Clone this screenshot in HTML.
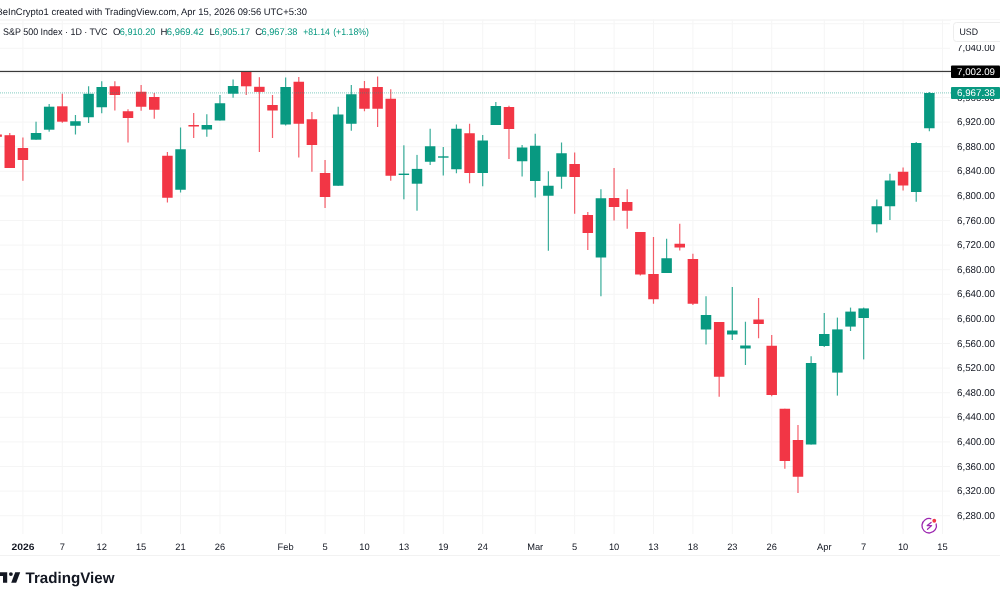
<!DOCTYPE html>
<html><head><meta charset="utf-8"><title>S&amp;P 500 Index chart</title>
<style>html,body{margin:0;padding:0;background:#fff;width:1000px;height:600px;overflow:hidden}svg{display:block;will-change:transform}text{font-family:"Liberation Sans",sans-serif;text-rendering:geometricPrecision}</style>
</head><body>
<svg width="1000" height="600" viewBox="0 0 1000 600" shape-rendering="crispEdges">
<rect x="0" y="0" width="1000" height="600" fill="#ffffff"/>
<rect x="0" y="19.2" width="1000" height="1.8" fill="#f7f7f7" shape-rendering="auto"/>
<rect x="0" y="555" width="1000" height="1" fill="#f2f2f2"/>
<rect x="22.40" y="19.5" width="1" height="514.5" fill="#f5f5f5" shape-rendering="auto"/>
<rect x="61.81" y="19.5" width="1" height="514.5" fill="#f5f5f5" shape-rendering="auto"/>
<rect x="101.22" y="19.5" width="1" height="514.5" fill="#f5f5f5" shape-rendering="auto"/>
<rect x="140.63" y="19.5" width="1" height="514.5" fill="#f5f5f5" shape-rendering="auto"/>
<rect x="180.04" y="19.5" width="1" height="514.5" fill="#f5f5f5" shape-rendering="auto"/>
<rect x="219.46" y="19.5" width="1" height="514.5" fill="#f5f5f5" shape-rendering="auto"/>
<rect x="285.14" y="19.5" width="1" height="514.5" fill="#f5f5f5" shape-rendering="auto"/>
<rect x="324.55" y="19.5" width="1" height="514.5" fill="#f5f5f5" shape-rendering="auto"/>
<rect x="363.96" y="19.5" width="1" height="514.5" fill="#f5f5f5" shape-rendering="auto"/>
<rect x="403.37" y="19.5" width="1" height="514.5" fill="#f5f5f5" shape-rendering="auto"/>
<rect x="442.78" y="19.5" width="1" height="514.5" fill="#f5f5f5" shape-rendering="auto"/>
<rect x="482.19" y="19.5" width="1" height="514.5" fill="#f5f5f5" shape-rendering="auto"/>
<rect x="534.74" y="19.5" width="1" height="514.5" fill="#f5f5f5" shape-rendering="auto"/>
<rect x="574.15" y="19.5" width="1" height="514.5" fill="#f5f5f5" shape-rendering="auto"/>
<rect x="613.56" y="19.5" width="1" height="514.5" fill="#f5f5f5" shape-rendering="auto"/>
<rect x="652.98" y="19.5" width="1" height="514.5" fill="#f5f5f5" shape-rendering="auto"/>
<rect x="692.39" y="19.5" width="1" height="514.5" fill="#f5f5f5" shape-rendering="auto"/>
<rect x="731.80" y="19.5" width="1" height="514.5" fill="#f5f5f5" shape-rendering="auto"/>
<rect x="771.21" y="19.5" width="1" height="514.5" fill="#f5f5f5" shape-rendering="auto"/>
<rect x="823.76" y="19.5" width="1" height="514.5" fill="#f5f5f5" shape-rendering="auto"/>
<rect x="863.17" y="19.5" width="1" height="514.5" fill="#f5f5f5" shape-rendering="auto"/>
<rect x="902.58" y="19.5" width="1" height="514.5" fill="#f5f5f5" shape-rendering="auto"/>
<rect x="941.99" y="19.5" width="1" height="514.5" fill="#f5f5f5" shape-rendering="auto"/>
<rect x="0" y="23.20" width="950" height="1" fill="#f5f5f5" shape-rendering="auto"/>
<rect x="0" y="47.80" width="950" height="1" fill="#f5f5f5" shape-rendering="auto"/>
<rect x="0" y="72.40" width="950" height="1" fill="#f5f5f5" shape-rendering="auto"/>
<rect x="0" y="97.00" width="950" height="1" fill="#f5f5f5" shape-rendering="auto"/>
<rect x="0" y="121.60" width="950" height="1" fill="#f5f5f5" shape-rendering="auto"/>
<rect x="0" y="146.20" width="950" height="1" fill="#f5f5f5" shape-rendering="auto"/>
<rect x="0" y="170.80" width="950" height="1" fill="#f5f5f5" shape-rendering="auto"/>
<rect x="0" y="195.40" width="950" height="1" fill="#f5f5f5" shape-rendering="auto"/>
<rect x="0" y="220.00" width="950" height="1" fill="#f5f5f5" shape-rendering="auto"/>
<rect x="0" y="244.60" width="950" height="1" fill="#f5f5f5" shape-rendering="auto"/>
<rect x="0" y="269.20" width="950" height="1" fill="#f5f5f5" shape-rendering="auto"/>
<rect x="0" y="293.80" width="950" height="1" fill="#f5f5f5" shape-rendering="auto"/>
<rect x="0" y="318.40" width="950" height="1" fill="#f5f5f5" shape-rendering="auto"/>
<rect x="0" y="343.00" width="950" height="1" fill="#f5f5f5" shape-rendering="auto"/>
<rect x="0" y="367.60" width="950" height="1" fill="#f5f5f5" shape-rendering="auto"/>
<rect x="0" y="392.20" width="950" height="1" fill="#f5f5f5" shape-rendering="auto"/>
<rect x="0" y="416.80" width="950" height="1" fill="#f5f5f5" shape-rendering="auto"/>
<rect x="0" y="441.40" width="950" height="1" fill="#f5f5f5" shape-rendering="auto"/>
<rect x="0" y="466.00" width="950" height="1" fill="#f5f5f5" shape-rendering="auto"/>
<rect x="0" y="490.60" width="950" height="1" fill="#f5f5f5" shape-rendering="auto"/>
<rect x="0" y="515.20" width="950" height="1" fill="#f5f5f5" shape-rendering="auto"/>
<rect x="-3.97" y="134.50" width="1.2" height="2.30" fill="#F23645" opacity="0.8" shape-rendering="auto"/>
<rect x="-8.62" y="134.50" width="10.5" height="2.30" fill="#F23645" shape-rendering="auto"/>
<rect x="9.16" y="133.00" width="1.2" height="35.00" fill="#F23645" opacity="0.8" shape-rendering="auto"/>
<rect x="4.51" y="135.20" width="10.5" height="32.80" fill="#F23645" shape-rendering="auto"/>
<rect x="22.30" y="137.50" width="1.2" height="43.30" fill="#F23645" opacity="0.8" shape-rendering="auto"/>
<rect x="17.65" y="148.00" width="10.5" height="12.00" fill="#F23645" shape-rendering="auto"/>
<rect x="35.44" y="121.70" width="1.2" height="18.00" fill="#089981" opacity="0.8" shape-rendering="auto"/>
<rect x="30.79" y="133.00" width="10.5" height="6.70" fill="#089981" shape-rendering="auto"/>
<rect x="48.57" y="104.00" width="1.2" height="27.70" fill="#089981" opacity="0.8" shape-rendering="auto"/>
<rect x="43.92" y="106.70" width="10.5" height="23.00" fill="#089981" shape-rendering="auto"/>
<rect x="61.71" y="93.70" width="1.2" height="29.10" fill="#F23645" opacity="0.8" shape-rendering="auto"/>
<rect x="57.06" y="106.30" width="10.5" height="15.40" fill="#F23645" shape-rendering="auto"/>
<rect x="74.85" y="115.00" width="1.2" height="19.50" fill="#089981" opacity="0.8" shape-rendering="auto"/>
<rect x="70.20" y="121.25" width="10.5" height="4.50" fill="#089981" shape-rendering="auto"/>
<rect x="87.99" y="86.25" width="1.2" height="36.75" fill="#089981" opacity="0.8" shape-rendering="auto"/>
<rect x="83.34" y="93.75" width="10.5" height="23.50" fill="#089981" shape-rendering="auto"/>
<rect x="101.12" y="81.25" width="1.2" height="32.00" fill="#089981" opacity="0.8" shape-rendering="auto"/>
<rect x="96.47" y="87.00" width="10.5" height="20.25" fill="#089981" shape-rendering="auto"/>
<rect x="114.26" y="81.25" width="1.2" height="29.25" fill="#F23645" opacity="0.8" shape-rendering="auto"/>
<rect x="109.61" y="86.25" width="10.5" height="8.75" fill="#F23645" shape-rendering="auto"/>
<rect x="127.40" y="109.25" width="1.2" height="33.25" fill="#F23645" opacity="0.8" shape-rendering="auto"/>
<rect x="122.75" y="111.25" width="10.5" height="6.75" fill="#F23645" shape-rendering="auto"/>
<rect x="140.53" y="85.00" width="1.2" height="25.75" fill="#F23645" opacity="0.8" shape-rendering="auto"/>
<rect x="135.88" y="91.75" width="10.5" height="15.00" fill="#F23645" shape-rendering="auto"/>
<rect x="153.67" y="93.00" width="1.2" height="25.75" fill="#F23645" opacity="0.8" shape-rendering="auto"/>
<rect x="149.02" y="97.00" width="10.5" height="12.75" fill="#F23645" shape-rendering="auto"/>
<rect x="166.81" y="152.00" width="1.2" height="50.50" fill="#F23645" opacity="0.8" shape-rendering="auto"/>
<rect x="162.16" y="155.75" width="10.5" height="42.00" fill="#F23645" shape-rendering="auto"/>
<rect x="179.94" y="127.50" width="1.2" height="65.00" fill="#089981" opacity="0.8" shape-rendering="auto"/>
<rect x="175.29" y="149.25" width="10.5" height="40.50" fill="#089981" shape-rendering="auto"/>
<rect x="193.08" y="113.00" width="1.2" height="25.00" fill="#F23645" opacity="0.8" shape-rendering="auto"/>
<rect x="188.43" y="125.00" width="10.5" height="1.50" fill="#F23645" shape-rendering="auto"/>
<rect x="206.22" y="114.25" width="1.2" height="22.50" fill="#089981" opacity="0.8" shape-rendering="auto"/>
<rect x="201.57" y="125.00" width="10.5" height="4.50" fill="#089981" shape-rendering="auto"/>
<rect x="219.36" y="95.00" width="1.2" height="25.50" fill="#089981" opacity="0.8" shape-rendering="auto"/>
<rect x="214.71" y="103.25" width="10.5" height="17.25" fill="#089981" shape-rendering="auto"/>
<rect x="232.49" y="79.50" width="1.2" height="18.20" fill="#089981" opacity="0.8" shape-rendering="auto"/>
<rect x="227.84" y="86.00" width="10.5" height="7.70" fill="#089981" shape-rendering="auto"/>
<rect x="245.63" y="71.20" width="1.2" height="23.80" fill="#F23645" opacity="0.8" shape-rendering="auto"/>
<rect x="240.98" y="71.20" width="10.5" height="15.10" fill="#F23645" shape-rendering="auto"/>
<rect x="258.77" y="77.20" width="1.2" height="74.80" fill="#F23645" opacity="0.8" shape-rendering="auto"/>
<rect x="254.12" y="86.80" width="10.5" height="5.10" fill="#F23645" shape-rendering="auto"/>
<rect x="271.90" y="95.00" width="1.2" height="43.00" fill="#F23645" opacity="0.8" shape-rendering="auto"/>
<rect x="267.25" y="105.00" width="10.5" height="5.50" fill="#F23645" shape-rendering="auto"/>
<rect x="285.04" y="77.50" width="1.2" height="48.00" fill="#089981" opacity="0.8" shape-rendering="auto"/>
<rect x="280.39" y="87.00" width="10.5" height="37.50" fill="#089981" shape-rendering="auto"/>
<rect x="298.18" y="77.00" width="1.2" height="80.50" fill="#F23645" opacity="0.8" shape-rendering="auto"/>
<rect x="293.53" y="81.75" width="10.5" height="42.00" fill="#F23645" shape-rendering="auto"/>
<rect x="311.31" y="112.00" width="1.2" height="59.75" fill="#F23645" opacity="0.8" shape-rendering="auto"/>
<rect x="306.66" y="119.25" width="10.5" height="25.75" fill="#F23645" shape-rendering="auto"/>
<rect x="324.45" y="160.00" width="1.2" height="48.00" fill="#F23645" opacity="0.8" shape-rendering="auto"/>
<rect x="319.80" y="173.00" width="10.5" height="24.00" fill="#F23645" shape-rendering="auto"/>
<rect x="337.59" y="106.75" width="1.2" height="79.00" fill="#089981" opacity="0.8" shape-rendering="auto"/>
<rect x="332.94" y="114.50" width="10.5" height="71.25" fill="#089981" shape-rendering="auto"/>
<rect x="350.72" y="85.00" width="1.2" height="45.75" fill="#089981" opacity="0.8" shape-rendering="auto"/>
<rect x="346.07" y="94.25" width="10.5" height="29.50" fill="#089981" shape-rendering="auto"/>
<rect x="363.86" y="81.00" width="1.2" height="30.25" fill="#F23645" opacity="0.8" shape-rendering="auto"/>
<rect x="359.21" y="88.25" width="10.5" height="20.50" fill="#F23645" shape-rendering="auto"/>
<rect x="377.00" y="76.50" width="1.2" height="50.50" fill="#F23645" opacity="0.8" shape-rendering="auto"/>
<rect x="372.35" y="87.00" width="10.5" height="21.75" fill="#F23645" shape-rendering="auto"/>
<rect x="390.14" y="89.25" width="1.2" height="91.50" fill="#F23645" opacity="0.8" shape-rendering="auto"/>
<rect x="385.49" y="98.75" width="10.5" height="77.00" fill="#F23645" shape-rendering="auto"/>
<rect x="403.27" y="145.30" width="1.2" height="54.00" fill="#089981" opacity="0.8" shape-rendering="auto"/>
<rect x="398.62" y="173.60" width="10.5" height="1.40" fill="#089981" shape-rendering="auto"/>
<rect x="416.41" y="154.90" width="1.2" height="55.80" fill="#089981" opacity="0.8" shape-rendering="auto"/>
<rect x="411.76" y="168.90" width="10.5" height="14.80" fill="#089981" shape-rendering="auto"/>
<rect x="429.55" y="128.75" width="1.2" height="36.25" fill="#089981" opacity="0.8" shape-rendering="auto"/>
<rect x="424.90" y="146.25" width="10.5" height="15.50" fill="#089981" shape-rendering="auto"/>
<rect x="442.68" y="147.00" width="1.2" height="28.50" fill="#089981" opacity="0.8" shape-rendering="auto"/>
<rect x="438.03" y="156.30" width="10.5" height="1.40" fill="#089981" shape-rendering="auto"/>
<rect x="455.82" y="124.50" width="1.2" height="48.75" fill="#089981" opacity="0.8" shape-rendering="auto"/>
<rect x="451.17" y="128.75" width="10.5" height="40.50" fill="#089981" shape-rendering="auto"/>
<rect x="468.96" y="123.75" width="1.2" height="59.50" fill="#F23645" opacity="0.8" shape-rendering="auto"/>
<rect x="464.31" y="133.25" width="10.5" height="39.75" fill="#F23645" shape-rendering="auto"/>
<rect x="482.09" y="135.00" width="1.2" height="51.25" fill="#089981" opacity="0.8" shape-rendering="auto"/>
<rect x="477.44" y="140.50" width="10.5" height="32.50" fill="#089981" shape-rendering="auto"/>
<rect x="495.23" y="102.00" width="1.2" height="23.00" fill="#089981" opacity="0.8" shape-rendering="auto"/>
<rect x="490.58" y="106.00" width="10.5" height="19.00" fill="#089981" shape-rendering="auto"/>
<rect x="508.37" y="105.75" width="1.2" height="53.25" fill="#F23645" opacity="0.8" shape-rendering="auto"/>
<rect x="503.72" y="107.00" width="10.5" height="22.00" fill="#F23645" shape-rendering="auto"/>
<rect x="521.51" y="145.00" width="1.2" height="31.50" fill="#089981" opacity="0.8" shape-rendering="auto"/>
<rect x="516.86" y="147.50" width="10.5" height="13.75" fill="#089981" shape-rendering="auto"/>
<rect x="534.64" y="133.75" width="1.2" height="63.75" fill="#089981" opacity="0.8" shape-rendering="auto"/>
<rect x="529.99" y="145.75" width="10.5" height="35.25" fill="#089981" shape-rendering="auto"/>
<rect x="547.78" y="171.25" width="1.2" height="79.50" fill="#089981" opacity="0.8" shape-rendering="auto"/>
<rect x="543.13" y="185.75" width="10.5" height="10.00" fill="#089981" shape-rendering="auto"/>
<rect x="560.92" y="142.50" width="1.2" height="46.25" fill="#089981" opacity="0.8" shape-rendering="auto"/>
<rect x="556.27" y="153.25" width="10.5" height="23.50" fill="#089981" shape-rendering="auto"/>
<rect x="574.05" y="152.50" width="1.2" height="61.25" fill="#F23645" opacity="0.8" shape-rendering="auto"/>
<rect x="569.40" y="164.00" width="10.5" height="13.00" fill="#F23645" shape-rendering="auto"/>
<rect x="587.19" y="212.00" width="1.2" height="38.00" fill="#F23645" opacity="0.8" shape-rendering="auto"/>
<rect x="582.54" y="215.00" width="10.5" height="18.00" fill="#F23645" shape-rendering="auto"/>
<rect x="600.33" y="189.25" width="1.2" height="107.00" fill="#089981" opacity="0.8" shape-rendering="auto"/>
<rect x="595.68" y="198.25" width="10.5" height="59.25" fill="#089981" shape-rendering="auto"/>
<rect x="613.46" y="168.00" width="1.2" height="52.50" fill="#F23645" opacity="0.8" shape-rendering="auto"/>
<rect x="608.81" y="198.00" width="10.5" height="9.00" fill="#F23645" shape-rendering="auto"/>
<rect x="626.60" y="189.25" width="1.2" height="39.50" fill="#F23645" opacity="0.8" shape-rendering="auto"/>
<rect x="621.95" y="202.00" width="10.5" height="8.75" fill="#F23645" shape-rendering="auto"/>
<rect x="639.74" y="232.00" width="1.2" height="43.50" fill="#F23645" opacity="0.8" shape-rendering="auto"/>
<rect x="635.09" y="232.00" width="10.5" height="42.50" fill="#F23645" shape-rendering="auto"/>
<rect x="652.88" y="237.00" width="1.2" height="66.75" fill="#F23645" opacity="0.8" shape-rendering="auto"/>
<rect x="648.23" y="274.00" width="10.5" height="25.25" fill="#F23645" shape-rendering="auto"/>
<rect x="666.01" y="238.75" width="1.2" height="34.25" fill="#089981" opacity="0.8" shape-rendering="auto"/>
<rect x="661.36" y="258.25" width="10.5" height="14.75" fill="#089981" shape-rendering="auto"/>
<rect x="679.15" y="223.75" width="1.2" height="26.75" fill="#F23645" opacity="0.8" shape-rendering="auto"/>
<rect x="674.50" y="243.75" width="10.5" height="3.75" fill="#F23645" shape-rendering="auto"/>
<rect x="692.29" y="253.75" width="1.2" height="51.25" fill="#F23645" opacity="0.8" shape-rendering="auto"/>
<rect x="687.64" y="259.00" width="10.5" height="44.75" fill="#F23645" shape-rendering="auto"/>
<rect x="705.42" y="296.25" width="1.2" height="48.25" fill="#089981" opacity="0.8" shape-rendering="auto"/>
<rect x="700.77" y="315.00" width="10.5" height="14.50" fill="#089981" shape-rendering="auto"/>
<rect x="718.56" y="322.00" width="1.2" height="74.75" fill="#F23645" opacity="0.8" shape-rendering="auto"/>
<rect x="713.91" y="322.00" width="10.5" height="54.75" fill="#F23645" shape-rendering="auto"/>
<rect x="731.70" y="287.00" width="1.2" height="53.00" fill="#089981" opacity="0.8" shape-rendering="auto"/>
<rect x="727.05" y="330.50" width="10.5" height="4.00" fill="#089981" shape-rendering="auto"/>
<rect x="744.84" y="321.75" width="1.2" height="43.25" fill="#089981" opacity="0.8" shape-rendering="auto"/>
<rect x="740.19" y="345.50" width="10.5" height="3.00" fill="#089981" shape-rendering="auto"/>
<rect x="757.97" y="298.00" width="1.2" height="40.25" fill="#F23645" opacity="0.8" shape-rendering="auto"/>
<rect x="753.32" y="319.50" width="10.5" height="4.50" fill="#F23645" shape-rendering="auto"/>
<rect x="771.11" y="335.00" width="1.2" height="61.25" fill="#F23645" opacity="0.8" shape-rendering="auto"/>
<rect x="766.46" y="345.75" width="10.5" height="49.25" fill="#F23645" shape-rendering="auto"/>
<rect x="784.25" y="408.75" width="1.2" height="60.00" fill="#F23645" opacity="0.8" shape-rendering="auto"/>
<rect x="779.60" y="408.75" width="10.5" height="52.25" fill="#F23645" shape-rendering="auto"/>
<rect x="797.38" y="425.00" width="1.2" height="68.00" fill="#F23645" opacity="0.8" shape-rendering="auto"/>
<rect x="792.73" y="440.00" width="10.5" height="36.75" fill="#F23645" shape-rendering="auto"/>
<rect x="810.52" y="356.25" width="1.2" height="88.25" fill="#089981" opacity="0.8" shape-rendering="auto"/>
<rect x="805.87" y="363.00" width="10.5" height="81.50" fill="#089981" shape-rendering="auto"/>
<rect x="823.66" y="313.00" width="1.2" height="34.00" fill="#089981" opacity="0.8" shape-rendering="auto"/>
<rect x="819.01" y="334.00" width="10.5" height="12.00" fill="#089981" shape-rendering="auto"/>
<rect x="836.79" y="317.60" width="1.2" height="78.00" fill="#089981" opacity="0.8" shape-rendering="auto"/>
<rect x="832.14" y="329.40" width="10.5" height="43.20" fill="#089981" shape-rendering="auto"/>
<rect x="849.93" y="307.60" width="1.2" height="23.40" fill="#089981" opacity="0.8" shape-rendering="auto"/>
<rect x="845.28" y="311.60" width="10.5" height="15.00" fill="#089981" shape-rendering="auto"/>
<rect x="863.07" y="307.60" width="1.2" height="51.80" fill="#089981" opacity="0.8" shape-rendering="auto"/>
<rect x="858.42" y="308.40" width="10.5" height="9.60" fill="#089981" shape-rendering="auto"/>
<rect x="876.20" y="199.50" width="1.2" height="33.00" fill="#089981" opacity="0.8" shape-rendering="auto"/>
<rect x="871.55" y="206.25" width="10.5" height="18.00" fill="#089981" shape-rendering="auto"/>
<rect x="889.34" y="173.75" width="1.2" height="46.25" fill="#089981" opacity="0.8" shape-rendering="auto"/>
<rect x="884.69" y="180.50" width="10.5" height="25.75" fill="#089981" shape-rendering="auto"/>
<rect x="902.48" y="167.50" width="1.2" height="23.00" fill="#F23645" opacity="0.8" shape-rendering="auto"/>
<rect x="897.83" y="171.75" width="10.5" height="13.75" fill="#F23645" shape-rendering="auto"/>
<rect x="915.62" y="142.00" width="1.2" height="59.75" fill="#089981" opacity="0.8" shape-rendering="auto"/>
<rect x="910.97" y="143.00" width="10.5" height="49.00" fill="#089981" shape-rendering="auto"/>
<rect x="928.75" y="92.00" width="1.2" height="39.25" fill="#089981" opacity="0.8" shape-rendering="auto"/>
<rect x="924.10" y="93.00" width="10.5" height="35.25" fill="#089981" shape-rendering="auto"/>
<rect x="0" y="70.85" width="951" height="1.2" fill="#3a3a3a" shape-rendering="auto"/>
<line x1="0" y1="92.8" x2="951" y2="92.8" stroke="#089981" stroke-width="1.2" stroke-dasharray="1 1" opacity="0.4" shape-rendering="auto"/>
<text x="957" y="51.4" font-family="Liberation Sans, sans-serif" font-size="9.9" fill="#131722" textLength="38" lengthAdjust="spacingAndGlyphs">7,040.00</text>
<text x="957" y="76.0" font-family="Liberation Sans, sans-serif" font-size="9.9" fill="#131722" textLength="38" lengthAdjust="spacingAndGlyphs">7,000.00</text>
<text x="957" y="100.6" font-family="Liberation Sans, sans-serif" font-size="9.9" fill="#131722" textLength="38" lengthAdjust="spacingAndGlyphs">6,960.00</text>
<text x="957" y="125.2" font-family="Liberation Sans, sans-serif" font-size="9.9" fill="#131722" textLength="38" lengthAdjust="spacingAndGlyphs">6,920.00</text>
<text x="957" y="149.8" font-family="Liberation Sans, sans-serif" font-size="9.9" fill="#131722" textLength="38" lengthAdjust="spacingAndGlyphs">6,880.00</text>
<text x="957" y="174.4" font-family="Liberation Sans, sans-serif" font-size="9.9" fill="#131722" textLength="38" lengthAdjust="spacingAndGlyphs">6,840.00</text>
<text x="957" y="199.0" font-family="Liberation Sans, sans-serif" font-size="9.9" fill="#131722" textLength="38" lengthAdjust="spacingAndGlyphs">6,800.00</text>
<text x="957" y="223.6" font-family="Liberation Sans, sans-serif" font-size="9.9" fill="#131722" textLength="38" lengthAdjust="spacingAndGlyphs">6,760.00</text>
<text x="957" y="248.2" font-family="Liberation Sans, sans-serif" font-size="9.9" fill="#131722" textLength="38" lengthAdjust="spacingAndGlyphs">6,720.00</text>
<text x="957" y="272.8" font-family="Liberation Sans, sans-serif" font-size="9.9" fill="#131722" textLength="38" lengthAdjust="spacingAndGlyphs">6,680.00</text>
<text x="957" y="297.4" font-family="Liberation Sans, sans-serif" font-size="9.9" fill="#131722" textLength="38" lengthAdjust="spacingAndGlyphs">6,640.00</text>
<text x="957" y="322.0" font-family="Liberation Sans, sans-serif" font-size="9.9" fill="#131722" textLength="38" lengthAdjust="spacingAndGlyphs">6,600.00</text>
<text x="957" y="346.6" font-family="Liberation Sans, sans-serif" font-size="9.9" fill="#131722" textLength="38" lengthAdjust="spacingAndGlyphs">6,560.00</text>
<text x="957" y="371.2" font-family="Liberation Sans, sans-serif" font-size="9.9" fill="#131722" textLength="38" lengthAdjust="spacingAndGlyphs">6,520.00</text>
<text x="957" y="395.8" font-family="Liberation Sans, sans-serif" font-size="9.9" fill="#131722" textLength="38" lengthAdjust="spacingAndGlyphs">6,480.00</text>
<text x="957" y="420.4" font-family="Liberation Sans, sans-serif" font-size="9.9" fill="#131722" textLength="38" lengthAdjust="spacingAndGlyphs">6,440.00</text>
<text x="957" y="445.0" font-family="Liberation Sans, sans-serif" font-size="9.9" fill="#131722" textLength="38" lengthAdjust="spacingAndGlyphs">6,400.00</text>
<text x="957" y="469.6" font-family="Liberation Sans, sans-serif" font-size="9.9" fill="#131722" textLength="38" lengthAdjust="spacingAndGlyphs">6,360.00</text>
<text x="957" y="494.2" font-family="Liberation Sans, sans-serif" font-size="9.9" fill="#131722" textLength="38" lengthAdjust="spacingAndGlyphs">6,320.00</text>
<text x="957" y="518.8" font-family="Liberation Sans, sans-serif" font-size="9.9" fill="#131722" textLength="38" lengthAdjust="spacingAndGlyphs">6,280.00</text>
<rect x="951" y="20" width="49" height="25.2" fill="#ffffff"/>
<rect x="953.5" y="22.5" width="50" height="19" rx="3" fill="#ffffff" stroke="#ededed" stroke-width="1" shape-rendering="auto"/>
<text x="959.5" y="35.2" font-family="Liberation Sans, sans-serif" font-size="9.4" fill="#131722" textLength="18.5" lengthAdjust="spacingAndGlyphs">USD</text>
<rect x="951" y="65.5" width="49" height="12.5" rx="1" fill="#000000" shape-rendering="auto"/>
<text x="957" y="75.0" font-family="Liberation Sans, sans-serif" font-size="9.6" fill="#ffffff" textLength="38" lengthAdjust="spacingAndGlyphs">7,002.09</text>
<rect x="951" y="87" width="49" height="12" rx="1" fill="#089981" shape-rendering="auto"/>
<text x="957" y="96.4" font-family="Liberation Sans, sans-serif" font-size="9.6" fill="#ffffff" textLength="38" lengthAdjust="spacingAndGlyphs">6,967.38</text>
<text x="22.9" y="549.5" font-family="Liberation Sans, sans-serif" font-size="9.3" font-weight="bold" fill="#131722" text-anchor="middle" textLength="23" lengthAdjust="spacingAndGlyphs">2026</text>
<text x="62.3" y="549.5" font-family="Liberation Sans, sans-serif" font-size="9.3" font-weight="normal" fill="#131722" text-anchor="middle">7</text>
<text x="101.7" y="549.5" font-family="Liberation Sans, sans-serif" font-size="9.3" font-weight="normal" fill="#131722" text-anchor="middle">12</text>
<text x="141.1" y="549.5" font-family="Liberation Sans, sans-serif" font-size="9.3" font-weight="normal" fill="#131722" text-anchor="middle">15</text>
<text x="180.5" y="549.5" font-family="Liberation Sans, sans-serif" font-size="9.3" font-weight="normal" fill="#131722" text-anchor="middle">21</text>
<text x="220.0" y="549.5" font-family="Liberation Sans, sans-serif" font-size="9.3" font-weight="normal" fill="#131722" text-anchor="middle">26</text>
<text x="285.6" y="549.5" font-family="Liberation Sans, sans-serif" font-size="9.3" font-weight="normal" fill="#131722" text-anchor="middle">Feb</text>
<text x="325.1" y="549.5" font-family="Liberation Sans, sans-serif" font-size="9.3" font-weight="normal" fill="#131722" text-anchor="middle">5</text>
<text x="364.5" y="549.5" font-family="Liberation Sans, sans-serif" font-size="9.3" font-weight="normal" fill="#131722" text-anchor="middle">10</text>
<text x="403.9" y="549.5" font-family="Liberation Sans, sans-serif" font-size="9.3" font-weight="normal" fill="#131722" text-anchor="middle">13</text>
<text x="443.3" y="549.5" font-family="Liberation Sans, sans-serif" font-size="9.3" font-weight="normal" fill="#131722" text-anchor="middle">19</text>
<text x="482.7" y="549.5" font-family="Liberation Sans, sans-serif" font-size="9.3" font-weight="normal" fill="#131722" text-anchor="middle">24</text>
<text x="535.2" y="549.5" font-family="Liberation Sans, sans-serif" font-size="9.3" font-weight="normal" fill="#131722" text-anchor="middle">Mar</text>
<text x="574.7" y="549.5" font-family="Liberation Sans, sans-serif" font-size="9.3" font-weight="normal" fill="#131722" text-anchor="middle">5</text>
<text x="614.1" y="549.5" font-family="Liberation Sans, sans-serif" font-size="9.3" font-weight="normal" fill="#131722" text-anchor="middle">10</text>
<text x="653.5" y="549.5" font-family="Liberation Sans, sans-serif" font-size="9.3" font-weight="normal" fill="#131722" text-anchor="middle">13</text>
<text x="692.9" y="549.5" font-family="Liberation Sans, sans-serif" font-size="9.3" font-weight="normal" fill="#131722" text-anchor="middle">18</text>
<text x="732.3" y="549.5" font-family="Liberation Sans, sans-serif" font-size="9.3" font-weight="normal" fill="#131722" text-anchor="middle">23</text>
<text x="771.7" y="549.5" font-family="Liberation Sans, sans-serif" font-size="9.3" font-weight="normal" fill="#131722" text-anchor="middle">26</text>
<text x="824.3" y="549.5" font-family="Liberation Sans, sans-serif" font-size="9.3" font-weight="normal" fill="#131722" text-anchor="middle">Apr</text>
<text x="863.7" y="549.5" font-family="Liberation Sans, sans-serif" font-size="9.3" font-weight="normal" fill="#131722" text-anchor="middle">7</text>
<text x="903.1" y="549.5" font-family="Liberation Sans, sans-serif" font-size="9.3" font-weight="normal" fill="#131722" text-anchor="middle">10</text>
<text x="942.5" y="549.5" font-family="Liberation Sans, sans-serif" font-size="9.3" font-weight="normal" fill="#131722" text-anchor="middle">15</text>
<text x="-3.5" y="14.7" font-family="Liberation Sans, sans-serif" font-size="9.6" fill="#131722" textLength="310.5" lengthAdjust="spacingAndGlyphs">BeInCrypto1 created with TradingView.com, Apr 15, 2026 09:56 UTC+5:30</text>
<text x="3" y="34.9" font-family="Liberation Sans, sans-serif" font-size="9.6" fill="#131722" textLength="104.5" lengthAdjust="spacingAndGlyphs">S&amp;P 500 Index · 1D · TVC</text>
<text x="113" y="34.9" font-family="Liberation Sans, sans-serif" font-size="9.6" fill="#131722">O</text>
<text x="119.8" y="34.9" font-family="Liberation Sans, sans-serif" font-size="9.6" fill="#089981" textLength="35.5" lengthAdjust="spacingAndGlyphs">6,910.20</text>
<text x="160.5" y="34.9" font-family="Liberation Sans, sans-serif" font-size="9.6" fill="#131722">H</text>
<text x="166.8" y="34.9" font-family="Liberation Sans, sans-serif" font-size="9.6" fill="#089981" textLength="37" lengthAdjust="spacingAndGlyphs">6,969.42</text>
<text x="209.5" y="34.9" font-family="Liberation Sans, sans-serif" font-size="9.6" fill="#131722">L</text>
<text x="214.6" y="34.9" font-family="Liberation Sans, sans-serif" font-size="9.6" fill="#089981" textLength="35.5" lengthAdjust="spacingAndGlyphs">6,905.17</text>
<text x="255.3" y="34.9" font-family="Liberation Sans, sans-serif" font-size="9.6" fill="#131722">C</text>
<text x="261.5" y="34.9" font-family="Liberation Sans, sans-serif" font-size="9.6" fill="#089981" textLength="36" lengthAdjust="spacingAndGlyphs">6,967.38</text>
<text x="303.2" y="34.9" font-family="Liberation Sans, sans-serif" font-size="9.6" fill="#089981" textLength="26.5" lengthAdjust="spacingAndGlyphs">+81.14</text>
<text x="333.2" y="34.9" font-family="Liberation Sans, sans-serif" font-size="9.6" fill="#089981" textLength="35.8" lengthAdjust="spacingAndGlyphs">(+1.18%)</text>
<g shape-rendering="auto">
<path d="M 936.11 523.57 A 7.25 7.25 0 1 1 931.32 518.82" fill="none" stroke="#9c27b0" stroke-width="1.3"/>
<circle cx="934.25" cy="520.75" r="1.9" fill="#F23645"/>
<path d="M 931.1 522.5 L 927.2 525.6 L 931.6 525.6 L 927.5 529.3" fill="none" stroke="#9c27b0" stroke-width="1.25" stroke-linecap="round" stroke-linejoin="round"/>
</g>
<g shape-rendering="auto" fill="#131722">
<path d="M -1 572.2 L 7.2 572.2 L 7.2 582.8 L 3 582.8 L 3 575.9 L -1 575.9 Z"/>
<circle cx="10.9" cy="574.1" r="1.9"/>
<path d="M 15.2 572.2 L 20.2 572.2 L 16.2 582.8 L 11.2 582.8 Z"/>
</g>
<text x="25.5" y="582.9" font-family="Liberation Sans, sans-serif" font-size="15.4" font-weight="bold" fill="#131722" textLength="89" lengthAdjust="spacingAndGlyphs">TradingView</text>
</svg>
</body></html>
